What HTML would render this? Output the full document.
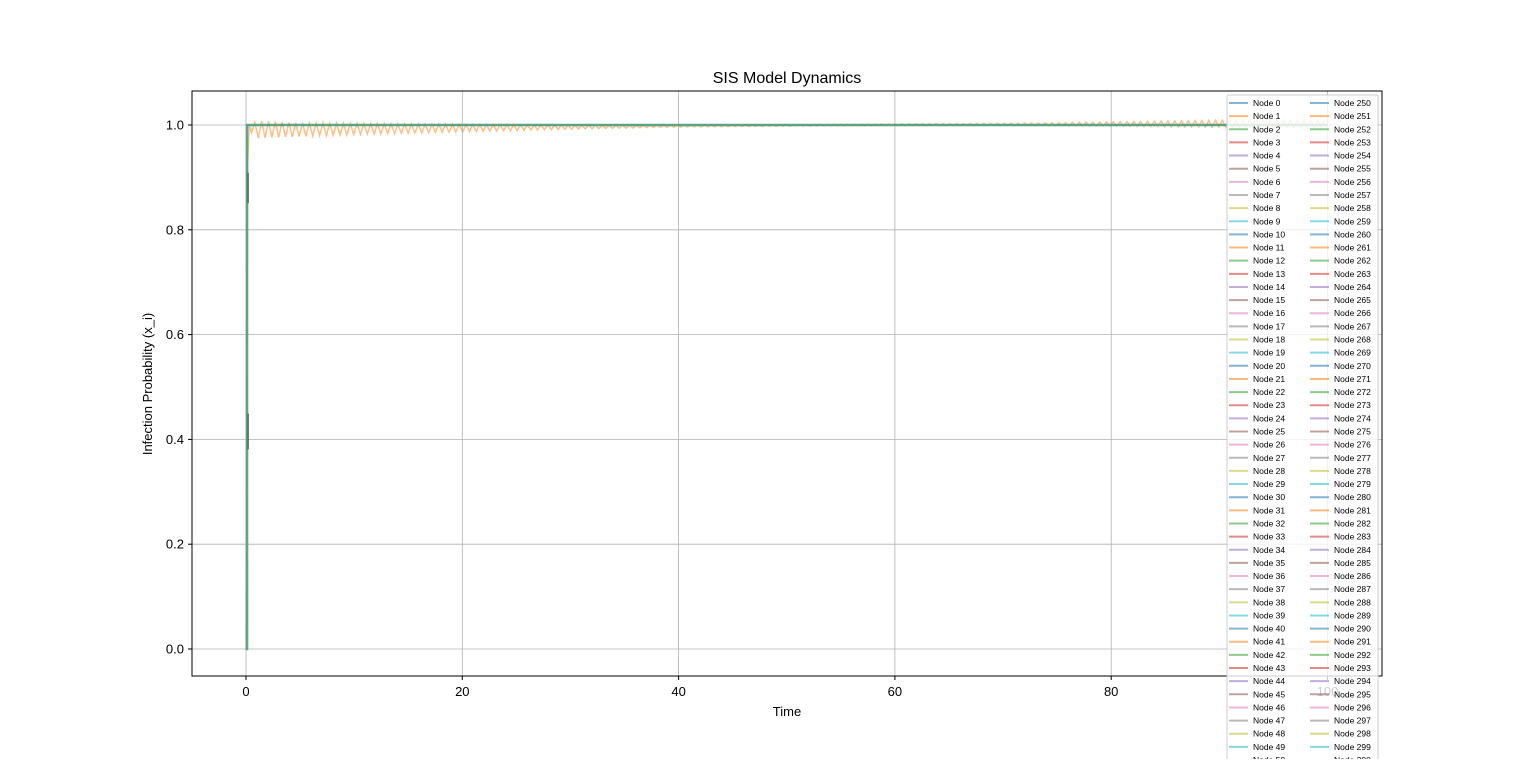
<!DOCTYPE html>
<html><head><meta charset="utf-8"><style>
body{margin:0;background:#fff;width:1536px;height:759px;overflow:hidden}
svg{font-family:"Liberation Sans","DejaVu Sans",sans-serif}
</style></head><body>
<svg id="chart" width="1536" height="759" xmlns="http://www.w3.org/2000/svg">
<rect width="1536" height="759" fill="#fff"/>
<g id="grid"></g>
<g id="series"></g>
<rect x="192" y="91" width="1190" height="585" fill="none" stroke="#000" stroke-width="1"/>
<g id="ticks"></g>
<text x="787" y="83" font-size="16" text-anchor="middle">SIS Model Dynamics</text>
<text x="787" y="716" font-size="13" text-anchor="middle">Time</text>
<text transform="translate(152,384) rotate(-90)" font-size="13" text-anchor="middle">Infection Probability (x_i)</text>
<g id="legend"></g>
</svg>
<script>
const xTicks=[0,20,40,60,80,100];
const yTicks=[0.0,0.2,0.4,0.6,0.8,1.0];
const oscTimes=[0.5,1,5,10,20,30,40,50,60,70,80,90,95,100];
const oscLow=[0.985,0.975,0.978,0.982,0.987,0.992,0.996,0.998,0.999,0.999,0.998,0.996,0.995,0.996];
const oscHigh=[1.0,1.008,1.004,1.003,1.001,1.0,1.0,1.0,1.002,1.003,1.006,1.009,1.01,1.008];
const stepTimes=[0,0.1,0.1,100];
const stepValues=[0,0,1,1];
const colors=["#1f77b4","#ff7f0e","#2ca02c","#d62728","#9467bd","#8c564b","#e377c2","#7f7f7f","#bcbd22","#17becf"];
const NS="http://www.w3.org/2000/svg";
const X=t=>246+t*10.815, Y=v=>649-v*524;
function mk(tag,attrs,parent){const e=document.createElementNS(NS,tag);for(const k in attrs)e.setAttribute(k,attrs[k]);parent.appendChild(e);return e;}
const grid=document.getElementById('grid'),ticks=document.getElementById('ticks'),ser=document.getElementById('series'),leg=document.getElementById('legend');
xTicks.forEach(t=>{
 let l=mk('line',{x1:X(t),x2:X(t),y1:91,y2:676,stroke:'#b0b0b0','stroke-width':0.8},grid);
 
 
 mk('line',{x1:X(t),x2:X(t),y1:676,y2:680,stroke:'#000'},ticks);
 let tx=mk('text',{x:X(t),y:696,'font-size':13,'text-anchor':'middle'},ticks);tx.textContent=t;
 
 
});
yTicks.forEach(v=>{
 let l=mk('line',{x1:192,x2:1382,y1:Y(v),y2:Y(v),stroke:'#b0b0b0','stroke-width':0.8},grid);
 
 
 mk('line',{x1:188,x2:192,y1:Y(v),y2:Y(v),stroke:'#000'},ticks);
 let tx=mk('text',{x:184,y:Y(v)+4.5,'font-size':13,'text-anchor':'end'},ticks);tx.textContent=v.toFixed(1);
 
 
});
function interp(arr,t){for(let i=0;i<oscTimes.length-1;i++){if(t<=oscTimes[i+1]){const f=(t-oscTimes[i])/(oscTimes[i+1]-oscTimes[i]);return arr[i]+f*(arr[i+1]-arr[i]);}}return arr[arr.length-1];}
let pts=[[X(0),Y(0)],[X(0.1),Y(0.9)],[X(0.3),Y(1)]];
let k=0;for(let t=0.5;t<=100;t+=0.315){pts.push([X(t),Y(k%2?interp(oscHigh,t):interp(oscLow,t))]);k++;}
let o=mk('polyline',{points:pts.map(p=>p.join(',')).join(' '),fill:'none',stroke:'#ff7f0e','stroke-opacity':0.5,'stroke-width':1.5},ser);


let g=mk('polyline',{points:stepTimes.map((t,i)=>X(t)+','+Y(stepValues[i])).join(' '),fill:'none',stroke:'#4c9e80','stroke-opacity':0.9,'stroke-width':2.5},ser);


[[0.87,0.89],[0.4,0.43]].forEach(s=>{let d=mk('line',{x1:X(0.2),x2:X(0.2),y1:Y(s[0])+10,y2:Y(s[1])-10,stroke:'#333','stroke-width':1},ser);
 
 });
mk('rect',{x:1227,y:95,width:151,height:680,fill:'#fff','fill-opacity':0.8,stroke:'#ccc',rx:2},leg);
for(let c=0;c<2;c++)for(let r=0;r<51;r++){
 const n=c*250+r, y=103+r*13.14, x0=c?1310:1229;
 let ln=mk('line',{x1:x0,x2:x0+19,y1:y,y2:y,stroke:colors[n%10],'stroke-opacity':0.55,'stroke-width':2},leg);
 
 
 let tx=mk('text',{x:x0+24,y:y+3,'font-size':8.5},leg);tx.textContent='Node '+n;
 
 
}
</script>
</body></html>
